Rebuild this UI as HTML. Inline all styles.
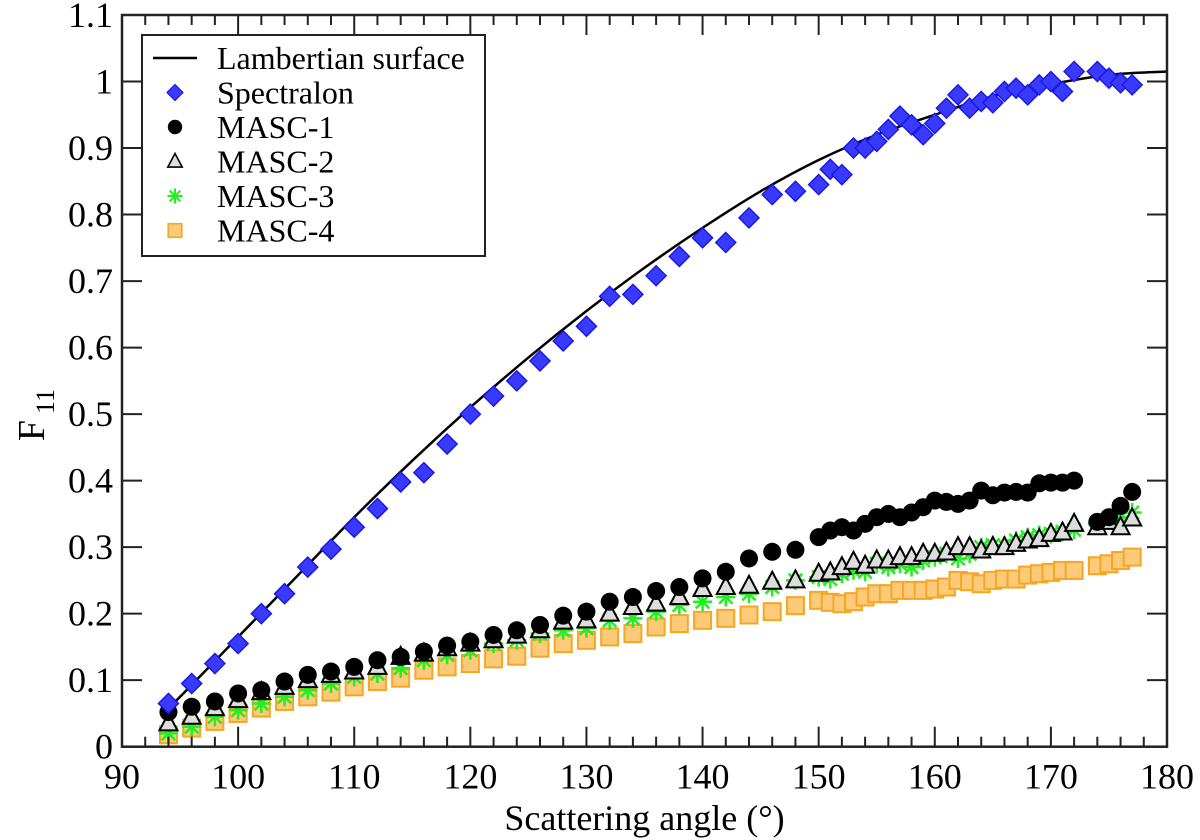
<!DOCTYPE html>
<html><head><meta charset="utf-8"><style>
body{margin:0;background:#fff;}
svg{display:block;}
svg text{font-family:"Liberation Serif","Times New Roman",Times,"DejaVu Serif",serif;}
</style></head><body>
<svg id="chart" width="1200" height="840" xmlns="http://www.w3.org/2000/svg">
<g id="marks"></g>
<g id="axes"></g>
<g id="legend"></g>
</svg>
<script>
const xTicks=[90,100,110,120,130,140,150,160,170,180];
const yTicks=[0,0.1,0.2,0.3,0.4,0.5,0.6,0.7,0.8,0.9,1,1.1];
const yTickLabels=["0","0.1","0.2","0.3","0.4","0.5","0.6","0.7","0.8","0.9","1","1.1"];
const angles=[94,96,98,100,102,104,106,108,110,112,114,116,118,120,122,124,126,128,130,132,134,136,138,140,142,144,146,148,150,151,152,153,154,155,156,157,158,159,160,161,162,163,164,165,166,167,168,169,170,171,172,174,175,176,177];
const lambX=[94,95,100,105,110,115,120,125,130,135,140,145,150,155,160,165,170,175,180];
const lambY=[0.06,0.075,0.165,0.255,0.345,0.43,0.51,0.585,0.655,0.72,0.78,0.835,0.882,0.92,0.95,0.978,0.996,1.01,1.015];
const spectralon=[0.065,0.095,0.125,0.155,0.2,0.23,0.27,0.297,0.33,0.358,0.398,0.412,0.455,0.5,0.527,0.55,0.58,0.61,0.632,0.677,0.68,0.708,0.737,0.765,0.758,0.795,0.83,0.835,0.845,0.868,0.86,0.9,0.9,0.91,0.928,0.948,0.935,0.92,0.937,0.96,0.98,0.96,0.97,0.968,0.985,0.99,0.98,0.995,1.0,0.985,1.015,1.015,1.005,0.998,0.995];
const masc1=[0.052,0.06,0.068,0.08,0.085,0.098,0.108,0.113,0.12,0.13,0.135,0.143,0.152,0.158,0.168,0.175,0.183,0.197,0.203,0.218,0.225,0.234,0.24,0.253,0.263,0.283,0.293,0.296,0.315,0.325,0.33,0.325,0.335,0.345,0.35,0.345,0.352,0.36,0.37,0.368,0.365,0.37,0.385,0.378,0.382,0.383,0.382,0.396,0.397,0.397,0.4,0.338,0.345,0.362,0.383];
const masc2=[0.035,0.045,0.058,0.07,0.082,0.09,0.1,0.108,0.113,0.12,0.135,0.14,0.148,0.155,0.16,0.167,0.175,0.188,0.19,0.2,0.21,0.215,0.225,0.237,0.24,0.242,0.248,0.25,0.26,0.262,0.27,0.278,0.272,0.28,0.28,0.285,0.285,0.29,0.29,0.292,0.3,0.3,0.295,0.3,0.3,0.305,0.31,0.312,0.32,0.322,0.335,0.33,0.338,0.33,0.343];
const masc3=[0.02,0.03,0.045,0.055,0.065,0.075,0.085,0.095,0.105,0.11,0.118,0.13,0.138,0.145,0.155,0.16,0.17,0.175,0.178,0.19,0.193,0.203,0.213,0.218,0.225,0.23,0.24,0.25,0.255,0.252,0.26,0.265,0.263,0.275,0.27,0.275,0.27,0.28,0.285,0.29,0.283,0.29,0.3,0.303,0.302,0.31,0.315,0.318,0.32,0.323,0.326,0.335,0.34,0.345,0.352];
const masc4=[0.018,0.028,0.038,0.05,0.058,0.068,0.075,0.082,0.09,0.098,0.103,0.115,0.12,0.125,0.132,0.136,0.148,0.155,0.16,0.165,0.17,0.18,0.185,0.19,0.193,0.198,0.203,0.212,0.22,0.217,0.215,0.218,0.225,0.23,0.23,0.235,0.235,0.235,0.237,0.24,0.25,0.248,0.245,0.25,0.252,0.252,0.258,0.26,0.262,0.265,0.265,0.272,0.275,0.28,0.285];

const L=122,R=1167,T=15,B=746.7;
const FONT='"Liberation Serif", "Times New Roman", Times, "DejaVu Serif", serif';
const xs=v=>L+(v-90)/90*(R-L);
const ys=v=>B-v/1.1*(B-T);
const NS="http://www.w3.org/2000/svg";
function mk(tag,attrs,parent){const e=document.createElementNS(NS,tag);for(const k in attrs)e.setAttribute(k,attrs[k]);if(tag==='text'){e.setAttribute('font-family',FONT);e.style.fontFamily=FONT;}parent.appendChild(e);return e;}
const marks=document.getElementById('marks'),axes=document.getElementById('axes'),legend=document.getElementById('legend');

let pts=lambX.map((x,i)=>[xs(x),ys(lambY[i])]);
let d="M"+pts[0][0]+","+pts[0][1];
for(let i=0;i<pts.length-1;i++){const p0=pts[Math.max(0,i-1)],p1=pts[i],p2=pts[i+1],p3=pts[Math.min(pts.length-1,i+2)];
d+=` C${p1[0]+(p2[0]-p0[0])/6},${p1[1]+(p2[1]-p0[1])/6} ${p2[0]-(p3[0]-p1[0])/6},${p2[1]-(p3[1]-p1[1])/6} ${p2[0]},${p2[1]}`;}
const curve=mk('path',{d:d,fill:'none',stroke:'#000','stroke-width':2.5},marks);



function square(g,x,y){return mk('rect',{x:x-8.5,y:y-8.5,width:17,height:17,fill:'#fdca7a',stroke:'#f5a623','stroke-width':2},g);}
function star(g,x,y){let s='';for(let a=0;a<4;a++){const t=a*Math.PI/4;s+=`M${x-9.5*Math.cos(t)},${y-9.5*Math.sin(t)}L${x+9.5*Math.cos(t)},${y+9.5*Math.sin(t)}`;}return mk('path',{d:s,stroke:'#22ee22','stroke-width':2.5,fill:'none'},g);}
function tri(g,x,y){return mk('path',{d:`M${x},${y-10}L${x+9},${y+7}L${x-9},${y+7}Z`,fill:'#ddd',stroke:'#000','stroke-width':2},g);}
function circ(g,x,y){return mk('circle',{cx:x,cy:y,r:9,fill:'#000'},g);}
function diam(g,x,y){return mk('path',{d:`M${x},${y-10}L${x+10},${y}L${x},${y+10}L${x-10},${y}Z`,fill:'#3a3aff',stroke:'#1a1ae0','stroke-width':1.5},g);}

const series=[['masc-4',masc4,square],['masc-3',masc3,star],['masc-2',masc2,tri],['masc-1',masc1,circ],['spectralon',spectralon,diam]];
series.forEach(([name,vals,fn])=>{
  const g=mk('g',{},marks);
  
  
  vals.forEach((v,i)=>{
    const m=fn(g,xs(angles[i]),ys(v));
    
    
  });
});

const fr=mk('rect',{x:L,y:T,width:R-L,height:B-T,fill:'none',stroke:'#222','stroke-width':2.5},axes);


for(let v=90;v<=180;v+=2){const x=xs(v);const maj=(v%10===0);const len=maj?20:10;
  mk('line',{x1:x,y1:B,x2:x,y2:B-len,stroke:'#222','stroke-width':2},axes);
  mk('line',{x1:x,y1:T,x2:x,y2:T+len,stroke:'#222','stroke-width':2},axes);}
xTicks.forEach(v=>{const t=mk('text',{x:xs(v),y:B+42,'text-anchor':'middle','font-size':36},axes);t.textContent=v;
  
  });
yTicks.forEach((v,i)=>{const y=ys(v);
  mk('line',{x1:L,y1:y,x2:L+20,y2:y,stroke:'#222','stroke-width':2},axes);
  mk('line',{x1:R,y1:y,x2:R-20,y2:y,stroke:'#222','stroke-width':2},axes);
  const t=mk('text',{x:L-9,y:y+12,'text-anchor':'end','font-size':36},axes);t.textContent=yTickLabels[i];
  
  });
const xt=mk('text',{x:(L+R)/2,y:830,'text-anchor':'middle','font-size':36},axes);xt.textContent="Scattering angle (°)";


const yt=mk('text',{transform:'translate(44,415) rotate(-90)','text-anchor':'middle','font-size':38},axes);
yt.innerHTML='F<tspan font-size="26" dy="10" dx="6">11</tspan>';



const lb=mk('rect',{x:142,y:35,width:343,height:221,fill:'#fff',stroke:'#222','stroke-width':2},legend);


const entries=[['Lambertian surface',null],['Spectralon',diam],['MASC-1',circ],['MASC-2',tri],['MASC-3',star],['MASC-4',square]];
entries.forEach(([lab,fn],i)=>{const y=58+i*34.5;
  const g=mk('g',{},legend);
  
  
  if(fn){const m=fn(g,175,y);m.setAttribute('transform',`translate(175,${y}) scale(0.8) translate(-175,${-y})`);}
  else mk('line',{x1:153,y1:y,x2:197,y2:y,stroke:'#000','stroke-width':2.5},g);
  const t=mk('text',{x:217,y:y+11,'font-size':32},g);t.textContent=lab;});
</script>
</body></html>
